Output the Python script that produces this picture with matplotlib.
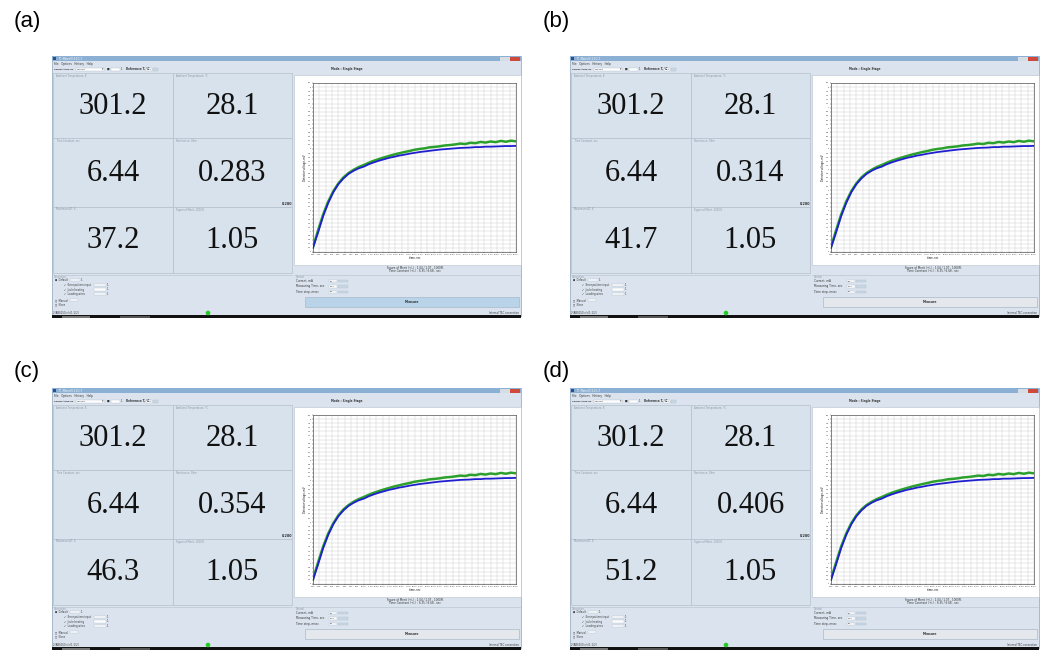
import matplotlib
matplotlib.use('Agg')
import matplotlib.pyplot as plt
from matplotlib.patches import Rectangle, Circle
import numpy as np

W, H = 1049, 653

# panel values
panel_labels = ['(a)', '(b)', '(c)', '(d)']
ambient_k = ['301.2', '301.2', '301.2', '301.2']
ambient_c = ['28.1', '28.1', '28.1', '28.1']
time_const = ['6.44', '6.44', '6.44', '6.44']
resistance = ['0.283', '0.314', '0.354', '0.406']
delta_t = ['37.2', '41.7', '46.3', '51.2']
merit = ['1.05', '1.05', '1.05', '1.05']
tile_titles = ['Ambient Temperature, K', 'Ambient Temperature, \u00b0C',
               'Time Constant, sec', 'Resistance, Ohm',
               'Maximum \u0394T, K', 'Figure of Merit, 1000/K']

# detector signal (same on every screen)
time_s = list(range(0, 41))
green_mv = [0.25, 1.05, 1.82, 2.45, 2.95, 3.33, 3.62, 3.83, 3.99, 4.12, 4.22,
            4.33, 4.43, 4.51, 4.59, 4.66, 4.73, 4.79, 4.85, 4.90, 4.96,
            5.00, 5.03, 5.08, 5.10, 5.13, 5.17, 5.19, 5.22, 5.26, 5.24,
            5.30, 5.28, 5.34, 5.31, 5.36, 5.33, 5.39, 5.35, 5.40, 5.37]
blue_mv = [0.20, 0.95, 1.74, 2.38, 2.90, 3.29, 3.57, 3.79, 3.94, 4.06, 4.14,
           4.26, 4.35, 4.43, 4.50, 4.57, 4.62, 4.68, 4.72, 4.77, 4.81,
           4.85, 4.88, 4.91, 4.94, 4.97, 4.99, 5.01, 5.03, 5.05, 5.06,
           5.07, 5.09, 5.09, 5.11, 5.11, 5.12, 5.13, 5.14, 5.14, 5.15]

# window origins (px) and label positions
origins = [(0, 0), (518, 0), (0, 332), (518, 332)]
label_pos = [(27, 22), (556, 22), (27, 372), (556, 372)]

fig = plt.figure(figsize=(W / 100, H / 100), dpi=100)
bg = fig.add_axes([0, 0, 1, 1])
bg.set_xlim(0, W)
bg.set_ylim(H, 0)
bg.axis('off')

TINY = 2.2
UI = '#dbe4ee'
EDGE = '#b4c0cc'


def rect(x0, y0, x1, y1, fc, ec='none', lw=0.5, z=1):
    bg.add_patch(Rectangle((x0, y0), x1 - x0, y1 - y0, facecolor=fc,
                           edgecolor=ec, linewidth=lw, zorder=z))


def tiny(x, y, s, **kw):
    kw.setdefault('fontsize', TINY)
    kw.setdefault('color', '#333333')
    kw.setdefault('va', 'center')
    bg.text(x, y, s, zorder=5, **kw)


def draw_window(i):
    ox, oy = origins[i]
    X = lambda v: ox + v
    Y = lambda v: oy + v
    # window body
    rect(X(52), Y(56), X(521), Y(316), UI, '#9fb0c2', 0.6)
    # title bar
    rect(X(52), Y(56), X(521), Y(61), '#8cb0d4', z=2)
    rect(X(53), Y(57), X(56), Y(60), '#2b4f8c', z=3)
    tiny(X(58), Y(58.5), 'TC  Meter III 3.0.1.7', color='white', fontsize=1.8)
    rect(X(500), Y(56.5), X(505), Y(60.5), '#d7dde4', z=3)
    rect(X(505), Y(56.5), X(510), Y(60.5), '#d7dde4', z=3)
    rect(X(510), Y(56.5), X(520), Y(60.5), '#d04a3c', z=3)
    # menu and tool bar
    tiny(X(54), Y(63.5), 'File   Options   History   Help', fontsize=2)
    tiny(X(54), Y(69), 'Cooler type ID', fontsize=1.7, weight='bold')
    rect(X(76), Y(67.5), X(104), Y(70.5), 'white', EDGE, 0.3, z=3)
    tiny(X(77), Y(69), 'Default', fontsize=1.7)
    tiny(X(103), Y(69), '\u25be', fontsize=2, ha='right')
    tiny(X(107), Y(69), '\u25a0', fontsize=2)
    rect(X(111), Y(67.5), X(120), Y(70.5), 'white', EDGE, 0.3, z=3)
    tiny(X(121), Y(69), '1', fontsize=1.8)
    tiny(X(126), Y(69), 'Reference T, \u00b0C', fontsize=2, weight='bold')
    rect(X(146), Y(67.5), X(152), Y(70.5), 'white', EDGE, 0.3, z=3)
    tiny(X(146.5), Y(69), '26.1', fontsize=1.6)
    rect(X(153), Y(67.5), X(158), Y(70.5), '#c9d6e4', EDGE, 0.3, z=3)
    tiny(X(347), Y(69), 'Mode : Single Stage', fontsize=2, weight='bold', ha='center')

    # six value tiles
    cols = [(53, 173), (173, 292)]
    rows = [(73, 138), (138, 207), (207, 273)]
    values = [ambient_k[i], ambient_c[i], time_const[i], resistance[i],
              delta_t[i], merit[i]]
    k = 0
    for r0, r1 in rows:
        for c0, c1 in cols:
            rect(X(c0), Y(r0), X(c1), Y(r1), '#d8e2ec', EDGE, 0.5, z=2)
            tiny(X(c0 + 3), Y(r0 + 2.5), tile_titles[k], color='#8a97a6', fontsize=1.8)
            bg.text(X((c0 + c1) / 2), Y((r0 + r1) / 2 + 1), values[k],
                    fontsize=22, family='Liberation Serif', ha='center',
                    va='center', color='#111111', zorder=5)
            k += 1
    tiny(X(287), Y(204), '0.280', fontsize=2.4, weight='bold', ha='center')

    # chart panel
    rect(X(294), Y(75), X(521), Y(265), 'white', EDGE, 0.4, z=2)
    ax = fig.add_axes([X(313) / W, 1 - Y(252) / H, 203 / W, 169 / H])
    ax.plot(time_s, green_mv, color='#2ca02c', lw=1.8, zorder=3)
    ax.plot(time_s, blue_mv, color='#1f1fd0', lw=1.3, zorder=4)
    ax.set_xlim(0, 40)
    ax.set_ylim(0, 8.2)
    ax.set_xticks(np.arange(0, 40.01, 1.25))
    ax.set_yticks(np.arange(0, 8.21, 0.2))
    ax.set_xticklabels(['%.2f' % v for v in np.arange(0, 40.01, 1.25)])
    ax.set_yticklabels(['%g' % round(v, 1) for v in np.arange(0, 8.21, 0.2)])
    ax.tick_params(labelsize=1.4, length=0.8, width=0.3, pad=0.6, colors='#333333')
    ax.grid(True, color='#d0d0d0', lw=0.35)
    for s in ax.spines.values():
        s.set_linewidth(0.5)
        s.set_color('#555555')
    ax.set_xlabel('time, sec', fontsize=1.8, labelpad=0.5)
    ax.set_ylabel('Detector voltage, mV', fontsize=1.8, labelpad=0.5)

    tiny(X(415), Y(267.5), 'Figure of Merit (+/-) : 1.04 / 1.07 , 1000/K',
         fontsize=2, ha='center')
    tiny(X(415), Y(271), 'Time Constant (+/-) : 6.35 / 6.68 , sec',
         fontsize=2, ha='center')

    # correction and control areas
    bg.plot([X(53), X(292)], [Y(275), Y(275)], color=EDGE, lw=0.4, zorder=3)
    bg.plot([X(294), X(520)], [Y(275), Y(275)], color=EDGE, lw=0.4, zorder=3)
    tiny(X(54), Y(276.5), 'Correction', color='#8a97a6', fontsize=1.8)
    tiny(X(55), Y(280), '\u25cf  Default', fontsize=1.8)
    rect(X(70), Y(278.8), X(80), Y(281.2), 'white', EDGE, 0.3, z=3)
    tiny(X(81), Y(280), '1', fontsize=1.8)
    checks = ['Error pattern input', 'Joule heating', 'Loading wires']
    for j, c in enumerate(checks):
        yy = Y(285 + 4.5 * j)
        tiny(X(64), yy, '\u2713  ' + c, fontsize=1.8)
        rect(X(94), yy - 1.2, X(106), yy + 1.2, 'white', EDGE, 0.3, z=3)
        tiny(X(107), yy, '1', fontsize=1.8)
    tiny(X(55), Y(300), '\u25cb  Manual', fontsize=1.8)
    rect(X(70), Y(298.8), X(78), Y(301.2), 'white', EDGE, 0.3, z=3)
    tiny(X(55), Y(304.5), '\u25cb  None', fontsize=1.8)

    tiny(X(296), Y(276.5), 'Control', color='#8a97a6', fontsize=1.8)
    ctrl = [('Current, mA', '50'), ('Measuring Time, sec', '40.0'),
            ('Time step, msec', '20')]
    for j, (name, val) in enumerate(ctrl):
        yy = Y(281 + 5.5 * j)
        tiny(X(296), yy, name, fontsize=2)
        rect(X(329), yy - 1.3, X(337), yy + 1.3, 'white', EDGE, 0.3, z=3)
        tiny(X(330), yy, val, fontsize=1.6)
        rect(X(338), yy - 1.3, X(348), yy + 1.3, '#c9d6e4', EDGE, 0.3, z=3)
    btn = '#b9d3e8' if i == 0 else '#e4e8ed'
    rect(X(305), Y(297), X(519), Y(307), btn, '#a9b9c9', 0.5, z=3)
    tiny(X(412), Y(302), 'Measure', fontsize=2.2, weight='bold', ha='center')

    # status bar and taskbar
    tiny(X(53), Y(312.5), '2(ABS150 v/c(1:1)2)', fontsize=1.8)
    bg.add_patch(Circle((X(208), Y(313)), 1.6, color='#22cc22', zorder=5))
    tiny(X(519), Y(312.5), 'Internal TEC connection', fontsize=1.8, ha='right')
    rect(X(52), Y(315), X(521), Y(318), '#111111', z=4)
    rect(X(62), Y(315.5), X(90), Y(317.5), '#777777', z=5)
    rect(X(120), Y(315.5), X(150), Y(317.5), '#555555', z=5)

    lx, ly = label_pos[i]
    bg.text(lx, ly, panel_labels[i], fontsize=16, family='Liberation Sans',
            ha='center', va='center', color='black')


for i in range(4):
    draw_window(i)

fig.savefig('out.png', dpi=100)
